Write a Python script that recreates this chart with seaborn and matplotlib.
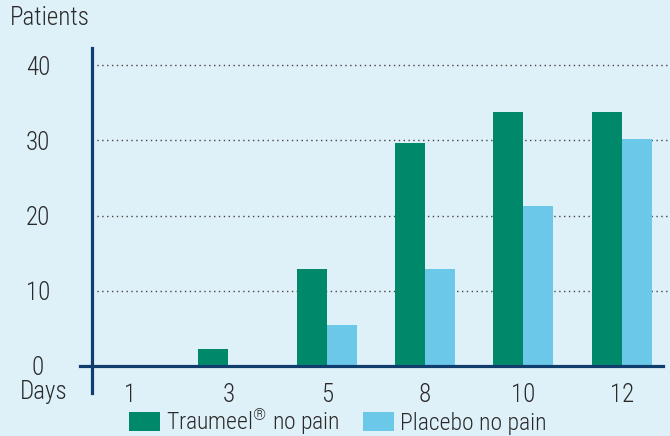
import pandas as pd
import seaborn as sns
import matplotlib.pyplot as plt
from matplotlib.patches import Patch

# Values
days = ["1", "3", "5", "8", "10", "12"]
traumeel = [0, 2.2, 12.9, 29.6, 33.8, 33.8]
placebo = [0, 0, 5.4, 12.9, 21.3, 30.2]
groups = [r"Traumeel$^{\circledR}$ no pain", "Placebo no pain"]
yticks = [0, 10, 20, 30, 40]

green = "#00886a"
blue = "#6cc8e8"
navy = "#0f3d6e"
bg = "#dff1f8"
text_col = "#2a2a2a"

df = pd.DataFrame({
    "day": days * 2,
    "patients": traumeel + placebo,
    "group": [groups[0]] * len(days) + [groups[1]] * len(days),
})

plt.rcParams["font.family"] = ["Roboto Condensed", "Liberation Sans Narrow",
                               "DejaVu Sans Condensed", "Liberation Sans", "DejaVu Sans"]
plt.rcParams["font.weight"] = "light"
plt.rcParams["font.size"] = 18
plt.rcParams["mathtext.fontset"] = "custom"
plt.rcParams["mathtext.rm"] = "Roboto Condensed:light"
plt.rcParams["mathtext.it"] = "Roboto Condensed:light"
plt.rcParams["mathtext.bf"] = "Roboto Condensed"

fig = plt.figure(figsize=(6.7, 4.36), dpi=100, facecolor=bg)
ax = fig.add_axes([92 / 670, (436 - 393) / 436, 576 / 670, 345 / 436])
ax.set_facecolor(bg)

sns.barplot(data=df, x="day", y="patients", hue="group", order=days,
            palette=[green, blue], width=0.61, saturation=1, legend=False, ax=ax)

ax.set_xlim(-0.386, 5.47)
ax.set_ylim(-3.6, 42.3)

# dotted gridlines and solid zero line
for v in yticks[1:]:
    ax.axhline(v, color="#444444", lw=1.0, ls=(0, (1, 2.5)), zorder=0)
ax.axhline(0, xmin=-0.021, xmax=0.991, color=navy, lw=2.3, clip_on=False, zorder=3)

for s in ["top", "right", "bottom"]:
    ax.spines[s].set_visible(False)
ax.spines["left"].set_color(navy)
ax.spines["left"].set_linewidth(2.3)

ax.set_yticks(yticks)
ax.tick_params(axis="y", length=0, pad=39, colors=text_col, labelsize=18)
for lab in ax.get_yticklabels():
    lab.set_horizontalalignment("center")
ax.tick_params(axis="x", length=0, pad=-7, colors=text_col, labelsize=18)
ax.set_xlabel("")
ax.set_ylabel("")

fig.text(10 / 670, 1 - 18 / 436, "Patients", fontsize=18, color=text_col, va="center")
fig.text(44 / 670, 1 - 392 / 436, "Days", fontsize=18, color=text_col, va="center", ha="center")

handles = [Patch(facecolor=green, label=groups[0]), Patch(facecolor=blue, label=groups[1])]
leg = fig.legend(handles=handles, loc="center left", ncol=2, frameon=False,
                 bbox_to_anchor=(129 / 670, 1 - 421 / 436), borderpad=0, borderaxespad=0,
                 handlelength=1.3, handleheight=0.8, handletextpad=0.25,
                 columnspacing=1.0, fontsize=17)
for t in leg.get_texts():
    t.set_color(text_col)

fig.savefig("out.png", dpi=100, facecolor=bg)
